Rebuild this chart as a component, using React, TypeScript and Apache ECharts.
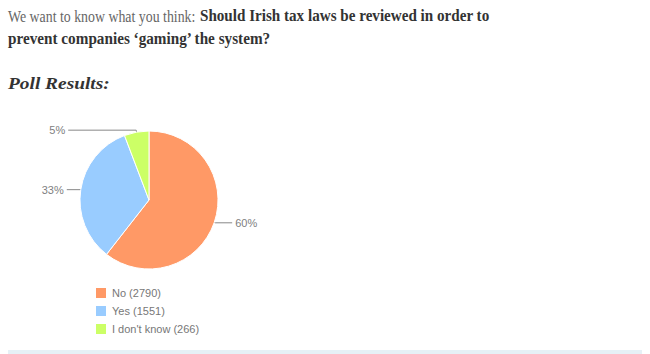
import React, { useEffect, useRef } from "react";
import * as echarts from "echarts";

const categories = ["No", "Yes", "I don't know"];
const votes = [2790, 1551, 266];
const sliceColors = ["#ff9966", "#99ccff", "#ccff66"];
const introText = "We want to know what you think:";
const questionLine1 = "Should Irish tax laws be reviewed in order to";
const questionLine2 = "prevent companies \u2018gaming\u2019 the system?";
const resultsHeading = "Poll Results:";

// per-slice label line lengths [length, length2]
const labelLines = [
  [1, 17],
  [0, 14],
  [2, 68],
];

export default function App() {
  const ref = useRef<HTMLDivElement>(null);
  useEffect(() => {
    if (!ref.current) return;
    const chart = echarts.init(ref.current, null, { renderer: "svg" });
    const serif = "'Liberation Serif', 'DejaVu Serif', serif";
    chart.setOption({
      animation: false,
      backgroundColor: "#ffffff",
      legend: {
        orient: "vertical",
        left: 94,
        top: 286,
        padding: 0,
        itemWidth: 12,
        itemHeight: 12,
        itemGap: 4,
        icon: "rect",
        data: categories,
        formatter: (name: string) => {
          const i = categories.indexOf(name);
          return `${name} (${votes[i]})`;
        },
        textStyle: { fontSize: 11, color: "#777", fontFamily: "'Liberation Sans', Arial, sans-serif" },
      },
      graphic: [
        {
          type: "text",
          x: 8,
          y: 7,
          scaleX: 0.815,
          style: {
            text: introText,
            fontFamily: serif,
            fontSize: 17,
            fill: "#666",
            verticalAlign: "top",
          },
        },
        {
          type: "text",
          x: 200,
          y: 7,
          scaleX: 0.89,
          style: {
            text: questionLine1,
            fontFamily: serif,
            fontSize: 17,
            fontWeight: "bold",
            fill: "#333",
            verticalAlign: "top",
          },
        },
        {
          type: "text",
          x: 8,
          y: 30,
          scaleX: 0.895,
          style: {
            text: questionLine2,
            fontFamily: serif,
            fontSize: 17,
            fontWeight: "bold",
            fill: "#333",
            verticalAlign: "top",
          },
        },
        {
          type: "text",
          x: 8,
          y: 75,
          scaleX: 1.14,
          style: {
            text: resultsHeading,
            fontFamily: serif,
            fontSize: 17,
            fontWeight: "bold",
            fontStyle: "italic",
            fill: "#333",
            verticalAlign: "top",
          },
        },
        {
          type: "rect",
          shape: { x: 8, y: 350, width: 634, height: 4 },
          style: { fill: "#e6f0f6" },
        },
      ],
      series: [
        {
          type: "pie",
          center: [149, 200],
          radius: 69,
          startAngle: 90,
          clockwise: true,
          avoidLabelOverlap: false,
          itemStyle: { borderColor: "#ffffff", borderWidth: 1 },
          label: {
            show: true,
            position: "outside",
            alignTo: "none",
            distanceToLabelLine: 3,
            fontSize: 11,
            color: "#808080",
            fontFamily: "'Liberation Sans', Arial, sans-serif",
            formatter: (p: any) => `${Math.floor(p.percent)}%`,
          },
          labelLine: { show: true, lineStyle: { color: "#888", width: 1 } },
          emphasis: { disabled: true },
          data: categories.map((name, i) => ({
            name,
            value: votes[i],
            itemStyle: { color: sliceColors[i] },
            labelLine: { length: labelLines[i][0], length2: labelLines[i][1] },
          })),
        },
      ],
    });
    return () => chart.dispose();
  }, []);
  return (
    <div
      ref={ref}
      style={{ position: "fixed", left: 0, top: 0, width: 650, height: 354 }}
    />
  );
}
